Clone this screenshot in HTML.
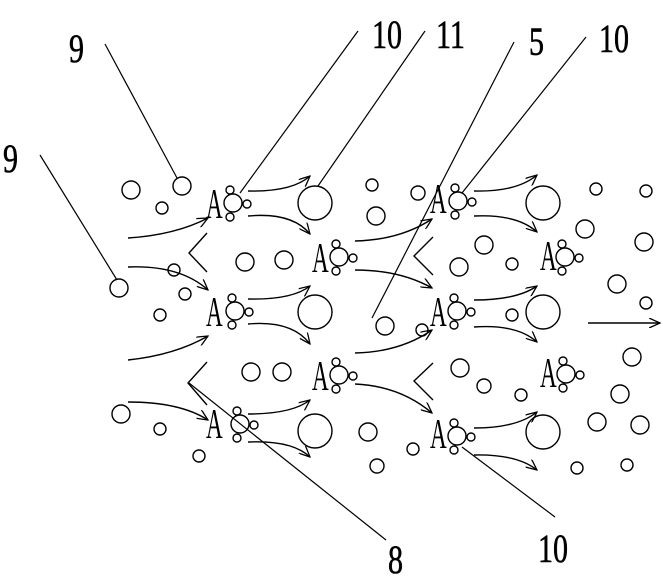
<!DOCTYPE html>
<html><head><style>body{margin:0;background:#fff}svg{display:block}</style></head><body>
<svg width="663" height="578" viewBox="0 0 663 578" xmlns="http://www.w3.org/2000/svg">
<defs>
<marker id="ah" markerWidth="12" markerHeight="10" refX="11" refY="5" orient="auto" markerUnits="userSpaceOnUse">
<path d="M0,0 L11,5 L0,10" fill="none" stroke="#000" stroke-width="1.3"/></marker>
<g id="m" fill="none" stroke="#000" stroke-width="1.4"><circle cx="0" cy="0" r="9"/><circle cx="-3" cy="-13" r="4"/><circle cx="14" cy="1" r="4"/><circle cx="-3" cy="14" r="4"/></g>
</defs>
<g font-family="Liberation Serif, serif" font-size="40" fill="#000" stroke="#000" stroke-width="0.6">
<text transform="translate(69,62) scale(0.75,1)">9</text>
<text transform="translate(3,172) scale(0.75,1)">9</text>
<text transform="translate(372,48) scale(0.75,1)">10</text>
<text transform="translate(436,48) scale(0.75,1)">11</text>
<text transform="translate(529,55) scale(0.75,1)">5</text>
<text transform="translate(599,52) scale(0.75,1)">10</text>
<text transform="translate(388,573) scale(0.75,1)">8</text>
<text transform="translate(538,562) scale(0.75,1)">10</text>
</g>
<g font-family="Liberation Serif, serif" font-size="42" fill="#000">
<text transform="translate(206,218) scale(0.55,1)">A</text>
<text transform="translate(206,326) scale(0.55,1)">A</text>
<text transform="translate(206,438) scale(0.55,1)">A</text>
<text transform="translate(312,272) scale(0.55,1)">A</text>
<text transform="translate(312,390) scale(0.55,1)">A</text>
<text transform="translate(430,213) scale(0.55,1)">A</text>
<text transform="translate(430,326) scale(0.55,1)">A</text>
<text transform="translate(430,448) scale(0.55,1)">A</text>
<text transform="translate(540,270) scale(0.55,1)">A</text>
<text transform="translate(540,387) scale(0.55,1)">A</text>
</g>
<use href="#m" x="233" y="203"/><use href="#m" x="235" y="311"/><use href="#m" x="240" y="424"/>
<use href="#m" x="339" y="257"/><use href="#m" x="339" y="375"/>
<use href="#m" x="458" y="201"/><use href="#m" x="457" y="311"/><use href="#m" x="457" y="436"/>
<use href="#m" x="565" y="257"/><use href="#m" x="566" y="374"/>
<g fill="none" stroke="#000" stroke-width="1.4">
<circle cx="315" cy="203" r="17"/><circle cx="315" cy="312" r="17"/><circle cx="315" cy="431" r="17"/>
<circle cx="543" cy="203" r="17"/><circle cx="543" cy="312" r="17"/><circle cx="543" cy="432" r="17"/>
<circle cx="131" cy="190" r="9"/><circle cx="182" cy="186" r="9"/><circle cx="162" cy="208" r="6"/>
<circle cx="119" cy="288" r="9"/><circle cx="174" cy="270" r="6"/><circle cx="185" cy="294" r="6"/><circle cx="160" cy="315" r="6"/>
<circle cx="121" cy="414" r="9"/><circle cx="160" cy="429" r="6"/><circle cx="199" cy="456" r="6"/>
<circle cx="245" cy="262" r="9"/><circle cx="284" cy="260" r="9"/><circle cx="251" cy="372" r="9"/><circle cx="282" cy="372" r="9"/>
<circle cx="372" cy="185" r="6"/><circle cx="376" cy="216" r="9"/><circle cx="418" cy="193" r="7"/>
<circle cx="484" cy="245" r="9"/><circle cx="459" cy="267" r="9"/><circle cx="512" cy="264" r="6"/>
<circle cx="596" cy="189" r="6"/><circle cx="646" cy="191" r="6"/><circle cx="585" cy="229" r="9"/><circle cx="644" cy="242" r="9"/>
<circle cx="617" cy="284" r="9"/><circle cx="646" cy="303" r="6"/>
<circle cx="385" cy="326" r="9"/><circle cx="422" cy="330" r="6"/><circle cx="512" cy="315" r="6"/>
<circle cx="460" cy="368" r="9"/><circle cx="484" cy="386" r="7"/><circle cx="521" cy="395" r="6"/>
<circle cx="368" cy="432" r="9"/><circle cx="413" cy="449" r="6"/><circle cx="377" cy="466" r="7"/>
<circle cx="632" cy="357" r="9"/><circle cx="620" cy="394" r="9"/><circle cx="597" cy="422" r="9"/><circle cx="640" cy="425" r="9"/>
<circle cx="577" cy="468" r="6"/><circle cx="627" cy="465" r="6"/>
<path d="M207,233 L189,253 L207,272"/><path d="M433,237 L414,256 L433,275"/>
<path d="M207,362 L188,383 L207,405"/><path d="M433,363 L414,381 L433,400"/>
<g marker-end="url(#ah)">
<path d="M128,238 Q175,235 208,218"/><path d="M128,267 Q180,265 208,290"/>
<path d="M128,360 Q175,355 208,336"/><path d="M128,402 Q180,402 208,420"/>
<path d="M248,191 Q292,192 310,176"/><path d="M248,216 Q292,212 310,234"/>
<path d="M248,299 Q292,300 310,286"/><path d="M248,324 Q292,320 310,344"/>
<path d="M248,414 Q292,414 310,400"/><path d="M248,442 Q292,440 310,457"/>
<path d="M355,241 Q400,240 432,219"/><path d="M355,270 Q400,270 432,288"/>
<path d="M355,353 Q400,352 432,330"/><path d="M355,384 Q400,386 432,413"/>
<path d="M474,191 Q517,192 537,175"/><path d="M474,216 Q517,214 537,232"/>
<path d="M474,300 Q517,300 537,286"/><path d="M474,327 Q517,324 537,342"/>
<path d="M474,428 Q517,428 537,412"/><path d="M474,455 Q517,454 537,470"/>
<path d="M588,323 L660,323"/>
</g>
<g stroke-width="1.2">
<path d="M105,44 L177,178"/><path d="M40,155 L117,280"/>
<path d="M358,31 L240,193"/><path d="M425,31 L318,186"/>
<path d="M514,42 L372,318"/><path d="M586,37 L462,193"/>
<path d="M189,383 L386,540"/><path d="M462,447 L555,517"/>
</g>
</g>
</svg>
</body></html>
